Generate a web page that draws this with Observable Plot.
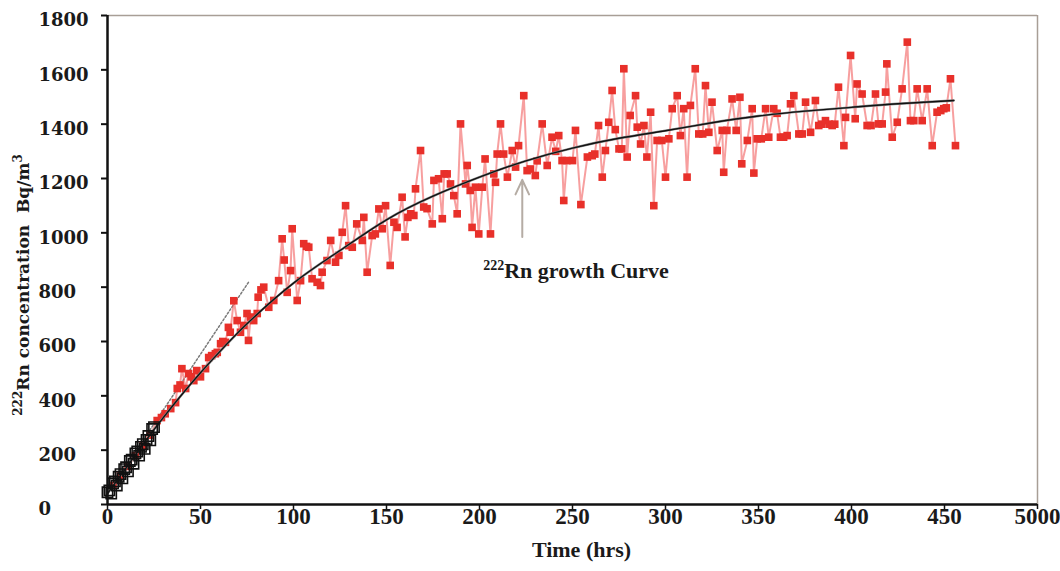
<!DOCTYPE html>
<html><head><meta charset="utf-8">
<script src="https://cdn.jsdelivr.net/npm/d3@7"></script>
<script src="https://cdn.jsdelivr.net/npm/@observablehq/plot@0.6"></script>
<style>body{margin:0;background:#fff} #chart svg{display:block;background:#fff}</style>
</head><body><div id="chart"></div>
<script>
// Open black squares (early measurements)
const squareT = [0,1,2,3,4,5,6,7,8,9,10,11,12,13,14,15,16,17,18,19,20,21,22,23,24,25];
const squareV = [45,52,40,78,85,70,102,112,96,130,137,122,160,165,150,188,195,180,212,222,205,238,252,236,278,285];
// Red measured series
const redT = [3,7,11,15,19,23,26.7,29,31,34,36.6,37.5,39,40,42,43.6,45,46.4,48,50,52.7,54.4,56,58,59,60.8,62,63.4,65,66,67.9,69.7,71.5,73.3,75,75.8,77,78.6,80.5,81,82.5,84,86.7,89.4,92,93.9,95,96.6,98.4,99.3,102,103.8,105.5,107,108.2,110,112.7,114.5,115.4,118,120,122.6,124.4,126.2,128,129.7,131.6,134,137,137.8,139.6,142.3,144,145.9,147.7,149.5,152,154,155.7,158.4,160,161.5,163,164.7,165.6,168.3,170,171.8,174.6,175.5,178,180,181,182.6,184.4,186.2,188,189.8,192.5,193.4,195,196,197.8,199.6,201.5,203,205.9,207.7,208.6,209.5,211.3,213,215,217.6,219.4,221,223.8,225.6,227.4,230,231,233.7,236.4,239,241,242.6,244.4,245.3,247,250,251.6,254.5,258,260.6,262,264,266,267.7,269.5,271.3,273,275,276.5,277.6,279.4,281,283.9,284.8,286.6,288.4,290,292,293.7,295.5,298,300,301.8,303.6,306.3,308,309.8,311.6,313.4,316,317.9,320,321.5,323.3,325,327.8,330.5,331.3,333,335.8,338,340,341,344,346.6,347.5,349.3,351.5,353.8,355.5,358.2,360,361.8,363.5,365.4,367.2,369,371.7,373.5,375.3,378,380.6,382.4,384,386,388,389.6,391,393,395.9,396.8,399.5,402,403,405.7,408.4,410.5,412.9,414.5,416.5,418.3,419,421.9,424.6,427.2,430,431.7,433.5,435.3,438,440.7,443.4,446,448,449.6,451,453.2,455.9];
const redV = [70,105,140,180,215,255,309,320,334,353,375,427,440,500,427,482,470,456,493,470,500,541,548,555,560,592,600,597,652,634,750,677,634,659,703,604,690,677,703,763,790,800,726,751,824,978,900,781,861,1015,751,824,960,950,947,831,818,806,855,898,972,892,917,1002,1100,953,947,1033,972,1057,855,990,996,1088,1015,1100,880,1039,1020,1131,985,1057,1070,1064,1162,1303,1095,1089,1033,1193,1199,1052,1217,1217,1180,1137,1070,1401,1180,1248,1156,1020,1168,996,1168,1272,996,1217,1186,1290,1401,1290,1205,1303,1242,1321,1505,1229,1235,1211,1265,1401,1248,1352,1300,1358,1266,1119,1266,1266,1377,1104,1279,1284,1290,1395,1205,1303,1407,1524,1380,1309,1309,1604,1279,1432,1505,1389,1327,1395,1279,1444,1100,1340,1340,1205,1346,1457,1505,1358,1457,1205,1469,1604,1364,1364,1542,1370,1481,1303,1377,1223,1377,1493,1377,1499,1254,1340,1457,1220,1346,1346,1457,1352,1457,1440,1352,1352,1358,1475,1505,1364,1364,1481,1370,1487,1395,1400,1413,1400,1395,1400,1536,1321,1425,1653,1420,1548,1511,1395,1395,1511,1401,1401,1518,1622,1352,1407,1530,1702,1413,1413,1530,1413,1530,1321,1444,1450,1457,1460,1567,1321];
// Fitted growth curve
const fitT = [0,10,20,30,40,50,60,75,100,125,150,175,200,225,250,275,300,325,350,375,400,425,455];
const fitV = [40,135,230,320,405,485,560,665,815,935,1048,1135,1205,1265,1312,1348,1376,1405,1430,1448,1462,1475,1487];
// Initial-slope line
const slopeT = [0,76];
const slopeV = [40,820];
// Ticks
const xTicks = [0,50,100,150,200,250,300,350,400,450,500];
const xTickLabels = ["0","50","100","150","200","250","300","350","400","450","5000"];
const yTicks = [0,200,400,600,800,1000,1200,1400,1600,1800];
// Texts
const xTitle = "Time (hrs)";
const yTitle = "222Rn concentration  Bq/m3";
const annoText = "222Rn growth Curve";
const annoT = [202]; const annoV = [861];
const arrowT = [223]; const arrowFrom = [985]; const arrowTo = [1195];

const squares = squareT.map((t,i)=>({t, v:squareV[i]}));
const red = redT.map((t,i)=>({t, v:redV[i]}));
const fit = fitT.map((t,i)=>({t, v:fitV[i]}));
const slope = slopeT.map((t,i)=>({t, v:slopeV[i]}));
const xLab = new Map(xTicks.map((d,i)=>[d, xTickLabels[i]]));
const anno = annoT.map((t,i)=>({t, v:annoV[i], s:annoText}));
const arrows = arrowT.map((t,i)=>({t, v1:arrowFrom[i], v2:arrowTo[i]}));

const serif = "Liberation Serif, Times New Roman, serif";
const serif2 = "DejaVu Serif, serif";

const plot = Plot.plot({
  width: 1060, height: 571,
  marginLeft: 107, marginRight: 23, marginTop: 15, marginBottom: 67,
  x: {domain: [0, 500]},
  y: {domain: [0, 1800]},
  marks: [
    Plot.ruleY([1800], {stroke: "#a89e96", strokeWidth: 1.5}),
    Plot.ruleX([500], {stroke: "#a89e96", strokeWidth: 1.5}),
    Plot.line(slope, {x: "t", y: "v", stroke: "#7a7a7a", strokeWidth: 1.5, strokeDasharray: "2,2"}),
    Plot.line(red, {x: "t", y: "v", stroke: "#f05050", strokeOpacity: 0.55, strokeWidth: 2}),
    Plot.dot(red, {x: "t", y: "v", symbol: "square", r: 4.3, fill: "#e8302a"}),
    Plot.line(fit, {x: "t", y: "v", curve: "natural", stroke: "#8a8a8a", strokeWidth: 2.4}),
    Plot.line(fit, {x: "t", y: "v", curve: "natural", stroke: "#111", strokeWidth: 1.4}),
    Plot.dot(squares, {x: "t", y: "v", symbol: "square", r: 5.8, stroke: "#111", strokeWidth: 1.6, fill: "none"}),
    Plot.arrow(arrows, {x1: "t", x2: "t", y1: "v1", y2: "v2", stroke: "#b5aca4", strokeWidth: 2, headLength: 12, headAngle: 50}),
    Plot.text(anno, {x: "t", y: "v", text: "s", textAnchor: "start", fontSize: 22, fontWeight: "bold", fontFamily: serif, fill: "#1a1a1a"}),
    Plot.axisX({ticks: xTicks, tickSize: 5, tickFormat: () => "", label: null, stroke: "#111", strokeWidth: 1.5}),
    Plot.axisY({ticks: yTicks, tickSize: 6, tickFormat: () => "", label: null, stroke: "#111", strokeWidth: 2}),
    Plot.text(xTicks, {x: d => d, text: d => xLab.get(d), frameAnchor: "bottom", dy: 19, fontSize: 23, fontWeight: "bold", fontFamily: serif, fill: "#1a1a1a"}),
    Plot.text(yTicks, {y: d => d, text: d => String(d), frameAnchor: "left", textAnchor: "start", dx: -69, dy: 5, fontSize: 18, fontWeight: "bold", fontFamily: serif2, fill: "#1a1a1a"}),
    Plot.ruleX([0], {stroke: "#111", strokeWidth: 2.5}),
    Plot.ruleY([0], {stroke: "#111", strokeWidth: 2.5}),
    Plot.text([xTitle], {frameAnchor: "bottom", dy: 52, dx: 9, fontSize: 22, fontWeight: "bold", fontFamily: serif, fill: "#1a1a1a"}),
    Plot.text([yTitle], {frameAnchor: "left", textAnchor: "middle", rotate: -90, dx: -84, dy: 25, fontSize: 17, fontWeight: "bold", fontFamily: serif2, fill: "#1a1a1a"})
  ]
});

// Turn the leading "222" and trailing "3" into superscripts
d3.select(plot).selectAll("text").each(function() {
  const s = this.textContent;
  const el = d3.select(this);
  if (s === annoText) {
    el.text(null);
    el.append("tspan").attr("font-size", 14).attr("dy", -8).text("222");
    el.append("tspan").attr("dy", 8).text("Rn growth Curve");
  } else if (s === yTitle) {
    el.text(null);
    el.append("tspan").attr("font-size", 12).attr("dy", -7).text("222");
    el.append("tspan").attr("dy", 7).text("Rn concentration\u00a0\u00a0Bq/m");
    el.append("tspan").attr("font-size", 12).attr("dy", -7).text("3");
  }
});

document.getElementById("chart").appendChild(plot);
</script>
</body></html>
